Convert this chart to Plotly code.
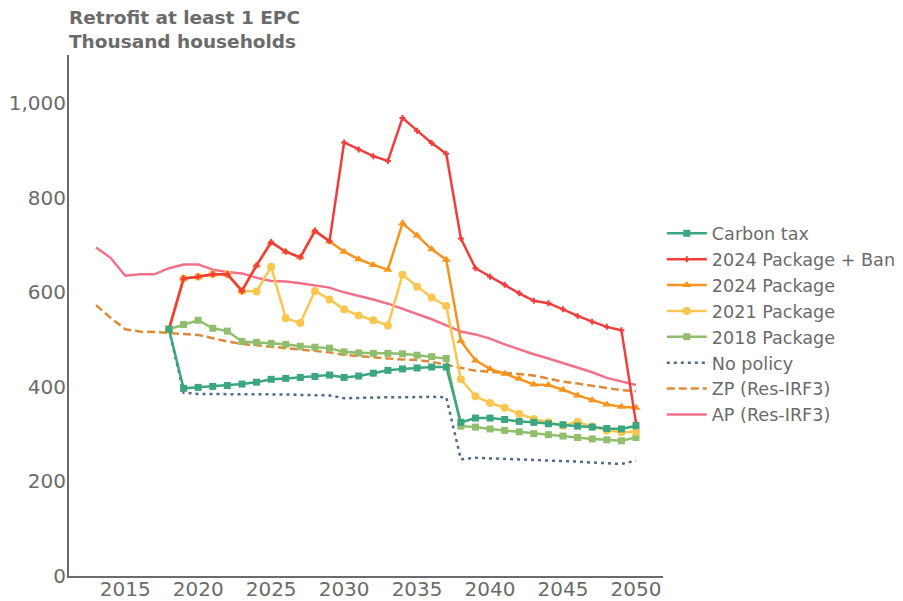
import plotly.graph_objects as go

years_full = list(range(2013, 2051))
years_pol = list(range(2018, 2051))

carbon_tax = [522, 397, 399, 401, 403, 406, 410, 416, 418, 420, 422, 425, 420, 423, 429, 435, 438, 440, 442, 442,
              325, 334, 334, 331, 327, 325, 322, 320, 317, 315, 312, 311, 318]
pkg2024_ban = [522, 629, 633, 638, 638, 603, 657, 706, 686, 674, 730, 708, 917, 902, 888, 878, 969, 942, 916, 893,
               714, 651, 633, 616, 598, 582, 577, 564, 550, 538, 527, 520, 324]
pkg2024 = [522, 629, 633, 638, 638, 603, 657, 706, 686, 674, 730, 708, 686, 670, 658, 648, 746, 720, 691, 669,
           497, 456, 438, 428, 417, 405, 404, 394, 382, 372, 363, 358, 356]
pkg2021 = [522, 629, 633, 638, 638, 603, 602, 654, 545, 535, 603, 585, 564, 551, 541, 530, 637, 612, 589, 571,
           416, 380, 366, 356, 343, 332, 325, 318, 326, 316, 308, 304, 305]
pkg2018 = [522, 532, 541, 524, 518, 496, 494, 492, 490, 486, 484, 482, 474, 472, 471, 471, 470, 467, 464, 460,
           317, 315, 311, 308, 305, 301, 299, 296, 293, 290, 288, 286, 293]
no_policy = [522, 388, 385, 385, 384, 384, 384, 384, 384, 383, 383, 382, 376, 377, 377, 378, 378, 379, 379, 378,
             247, 250, 249, 248, 246, 245, 244, 243, 242, 240, 238, 237, 244]
zp = [573, 546, 522, 517, 516, 514, 511, 510, 503, 496, 491, 488, 485, 481, 478, 475, 473, 468, 465, 462, 460,
      458, 457, 453, 447, 440, 434, 432, 430, 427, 424, 418, 411, 407, 402, 397, 393, 391]
ap = [695, 673, 635, 638, 638, 651, 659, 659, 648, 643, 640, 631, 624, 623, 619, 614, 610, 600, 593, 585, 576,
      565, 553, 543, 530, 517, 511, 502, 490, 479, 469, 460, 450, 441, 431, 419, 412, 404]

x_ticks = [2015, 2020, 2025, 2030, 2035, 2040, 2045, 2050]
y_ticks = [0, 200, 400, 600, 800, 1000]
y_tick_text = ["0", "200", "400", "600", "800", "1,000"]

GRAY = "#6b6b6b"
FONT = "DejaVu Sans"

# page body has an 8px margin, so the figure is 8px smaller on each side
W, H = 895, 593

fig = go.Figure()

# drawing order (bottom to top); legend reversed
fig.add_trace(go.Scatter(x=years_full, y=ap, name="AP (Res-IRF3)", mode="lines",
                         line=dict(color="#f2708a", width=2.5)))
fig.add_trace(go.Scatter(x=years_full, y=zp, name="ZP (Res-IRF3)", mode="lines",
                         line=dict(color="#de8a38", width=2.5, dash="8px,4px")))
fig.add_trace(go.Scatter(x=years_pol, y=no_policy, name="No policy", mode="lines",
                         line=dict(color="#4f6a8a", width=2.5, dash="3px,4px")))
fig.add_trace(go.Scatter(x=years_pol, y=pkg2018, name="2018 Package", mode="lines+markers",
                         line=dict(color="#90be6d", width=2.5),
                         marker=dict(symbol="square", size=7, color="#90be6d")))
fig.add_trace(go.Scatter(x=years_pol, y=pkg2021, name="2021 Package", mode="lines+markers",
                         line=dict(color="#f9c74f", width=2.5),
                         marker=dict(symbol="circle", size=8, color="#f9c74f")))
fig.add_trace(go.Scatter(x=years_pol, y=pkg2024, name="2024 Package", mode="lines+markers",
                         line=dict(color="#f7941e", width=2.5),
                         marker=dict(symbol="triangle-up", size=8, color="#f7941e")))
fig.add_trace(go.Scatter(x=years_pol, y=pkg2024_ban, name="2024 Package + Ban", mode="lines+markers",
                         line=dict(color="#f23d3d", width=2.5),
                         marker=dict(symbol="cross", size=5, color="#f23d3d")))
fig.add_trace(go.Scatter(x=years_pol, y=carbon_tax, name="Carbon tax", mode="lines+markers",
                         line=dict(color="#3ba680", width=2.5),
                         marker=dict(symbol="square", size=7, color="#3ba680")))

fig.update_layout(
    width=W, height=H,
    paper_bgcolor="white", plot_bgcolor="white",
    margin=dict(l=61, r=240, t=47, b=25, autoexpand=False),
    font=dict(family=FONT, color=GRAY),
    title=dict(text="<b>Retrofit at least 1 EPC<br>Thousand households</b>",
               x=61 / W, xanchor="left", xref="container",
               y=1 - 16 / H, yanchor="top", yref="container",
               font=dict(family=FONT, size=18.5, color=GRAY)),
    showlegend=True,
    legend=dict(x=-0.002 + 1.0, xanchor="left", y=0.483, yanchor="middle",
                traceorder="reversed", font=dict(family=FONT, size=17.6, color=GRAY),
                bgcolor="rgba(0,0,0,0)", itemwidth=40, tracegroupgap=0),
)

fig.update_xaxes(range=[2011.15, 2051.85], tickvals=x_ticks, showgrid=False, zeroline=False,
                 showline=True, linecolor=GRAY, linewidth=2, ticks="", automargin=False,
                 ticklabelstandoff=-6,
                 tickfont=dict(family=FONT, size=20, color=GRAY))
fig.update_yaxes(range=[0, 1102], tickvals=y_ticks, ticktext=y_tick_text, showgrid=False, zeroline=False,
                 showline=True, linecolor=GRAY, linewidth=2, ticks="", automargin=False,
                 ticklabelstandoff=-3,
                 tickfont=dict(family=FONT, size=20, color=GRAY))

fig.write_html("out.html")
